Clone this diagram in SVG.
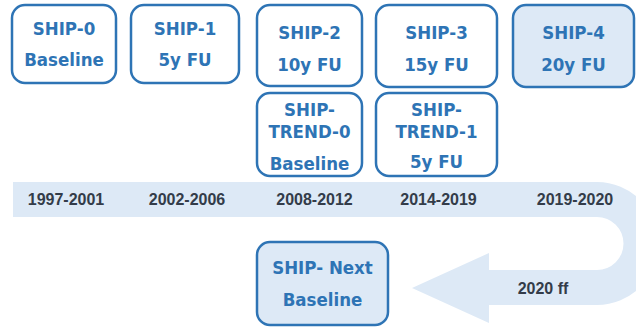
<svg xmlns="http://www.w3.org/2000/svg" width="636" height="328" viewBox="0 0 636 328">
<style>
.box{fill:#ffffff;stroke:#2e74b5;stroke-width:2.5}
.hl{fill:#dde9f6}
.t{font-family:"DejaVu Sans Condensed","DejaVu Sans",sans-serif;font-weight:bold;font-size:18.5px;fill:#2e74b5;text-anchor:middle}
.y{font-family:"Liberation Sans",Arial,sans-serif;font-weight:bold;font-size:16px;fill:#333c49;text-anchor:middle}
</style>
<rect width="636" height="328" fill="#ffffff"/>
<g id="connectors">
<path id="timeline" d="M13,182 H597 A61.5,61.5 0 0 1 597,305 H489 V323 L412,288 L489,253 V270 H597 A26.5,26.5 0 0 0 597,217 H13 Z" fill="#dde9f6"/>
<text class="y" x="66" y="204.5">1997-2001</text>
<text class="y" x="187" y="204.5">2002-2006</text>
<text class="y" x="314.5" y="204.5">2008-2012</text>
<text class="y" x="438.5" y="204.5">2014-2019</text>
<text class="y" x="575" y="204.5">2019-2020</text>
<text class="y" x="543" y="294">2020 ff</text>
</g>
<g id="ship0">
<rect class="box" x="12" y="5" width="104" height="78" rx="13"/>
<text class="t" x="64" y="34.5">SHIP-0</text>
<text class="t" x="64" y="66">Baseline</text>
</g>
<g id="ship1">
<rect class="box" x="131" y="5" width="108" height="78" rx="13"/>
<text class="t" x="185" y="34.5">SHIP-1</text>
<text class="t" x="185" y="66">5y FU</text>
</g>
<g id="ship2">
<rect class="box" x="257" y="5" width="105" height="81" rx="13"/>
<text class="t" x="309.5" y="38.5">SHIP-2</text>
<text class="t" x="309.5" y="71">10y FU</text>
</g>
<g id="ship3">
<rect class="box" x="376" y="5" width="121" height="82" rx="13"/>
<text class="t" x="436.5" y="38.5">SHIP-3</text>
<text class="t" x="436.5" y="71">15y FU</text>
</g>
<g id="ship4">
<rect class="box hl" x="513" y="5" width="121" height="82" rx="13"/>
<text class="t" x="573.5" y="38.5">SHIP-4</text>
<text class="t" x="573.5" y="71">20y FU</text>
</g>
<g id="trend0">
<rect class="box" x="257" y="93" width="105" height="83" rx="13"/>
<text class="t" x="309.5" y="115.5">SHIP-</text>
<text class="t" x="309.5" y="137.5">TREND-0</text>
<text class="t" x="309.5" y="170">Baseline</text>
</g>
<g id="trend1">
<rect class="box" x="376" y="93" width="121" height="83" rx="13"/>
<text class="t" x="436.5" y="115.5">SHIP-</text>
<text class="t" x="436.5" y="137.5">TREND-1</text>
<text class="t" x="436.5" y="167.5">5y FU</text>
</g>
<g id="shipnext">
<rect class="box hl" x="257" y="242" width="131" height="83" rx="13"/>
<text class="t" x="322.5" y="274">SHIP- Next</text>
<text class="t" x="322.5" y="306">Baseline</text>
</g>
</svg>
